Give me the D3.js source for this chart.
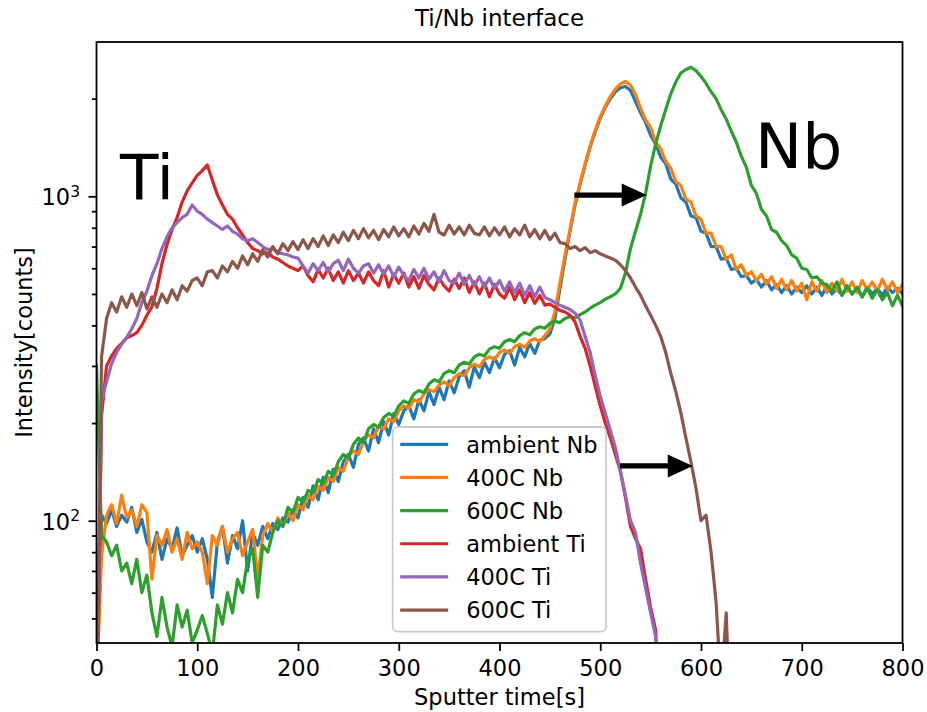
<!DOCTYPE html>
<html>
<head>
<meta charset="utf-8">
<script src="https://cdn.jsdelivr.net/npm/d3@7"></script>
<style>
  body { margin: 0; background: #fff; }
  text { font-family: "DejaVu Sans", sans-serif; }
</style>
</head>
<body>
<div id="chart"></div>
<script>
const sputterTime = d3.range(0, 801, 5)

const ambientNb = [
  30, 104, 98, 108, 96, 104, 99, 110, 92, 101,
  86, 80, 92, 76, 88, 82, 95, 78, 84, 90,
  80, 88, 76, 58, 86, 96, 74, 90, 82, 100,
  70, 92, 84, 96, 88, 98, 94, 102, 99, 108,
  102, 118, 110, 128, 116, 136, 122, 144, 132, 152,
  160, 146, 172, 180, 164, 192, 174, 202, 184, 214,
  198, 218, 226, 206, 236, 218, 250, 228, 258, 236,
  270, 248, 278, 290, 258, 298, 276, 308, 286, 318,
  296, 326, 334, 302, 342, 320, 352, 328, 360, 364,
  376, 420, 520, 640, 780, 940, 1090, 1250, 1420, 1580,
  1740, 1880, 2000, 2100, 2160, 2180, 2120, 1960, 1810, 1690,
  1540, 1450, 1320, 1260, 1130, 1090, 990, 960, 870, 860,
  780, 770, 700, 700, 640, 645, 595, 600, 565, 570,
  540, 555, 525, 550, 515, 535, 505, 530, 500, 525,
  505, 530, 500, 525, 495, 530, 500, 520, 495, 525,
  500, 520, 490, 525, 500, 520, 495, 525, 505, 520,
  500
]

const nb400C = [
  30, 78, 104, 112, 98, 120, 102, 108, 96, 112,
  106, 66, 90, 84, 94, 80, 88, 76, 92, 82,
  86, 80, 64, 90, 84, 96, 80, 88, 92, 78,
  86, 94, 66, 90, 98, 92, 102, 96, 106, 100,
  112, 108, 120, 116, 128, 124, 136, 132, 146, 142,
  158, 164, 160, 176, 184, 180, 196, 192, 206, 202,
  218, 226, 222, 236, 232, 246, 254, 250, 262, 268,
  260, 276, 284, 280, 296, 304, 298, 314, 320, 314,
  330, 336, 328, 344, 350, 342, 358, 364, 356, 372,
  390, 440, 540, 660, 790, 960, 1100, 1260, 1430, 1600,
  1760, 1900, 2030, 2140, 2220, 2260, 2200, 2060, 1870, 1720,
  1630, 1470, 1400, 1280, 1220, 1110, 1080, 980, 960, 870,
  850, 770, 770, 700, 700, 640, 660, 595, 615, 570,
  585, 550, 575, 535, 565, 520, 555, 515, 550, 510,
  540, 480, 545, 510, 550, 505, 540, 510, 555, 510,
  545, 505, 550, 515, 545, 510, 555, 515, 545, 505,
  535
]

const nb600C = [
  300, 90, 86, 78, 84, 70, 74, 64, 76, 60,
  68, 52, 44, 58, 47, 41, 55, 47, 53, 42,
  46, 51, 45, 39, 55, 48, 60, 52, 66, 60,
  76, 82, 58, 84, 80, 92, 100, 96, 110, 106,
  118, 114, 124, 122, 134, 130, 142, 138, 152, 160,
  156, 172, 180, 174, 192, 198, 194, 208, 214, 210,
  226, 234, 230, 246, 252, 248, 264, 272, 268, 284,
  290, 286, 302, 308, 304, 320, 326, 322, 338, 344,
  340, 356, 362, 356, 372, 380, 374, 390, 396, 392,
  406, 412, 408, 420, 426, 422, 432, 440, 452, 462,
  470, 482, 490, 500, 520, 580, 690, 780, 880, 1020,
  1240, 1450, 1650, 1850, 2070, 2250, 2400, 2460, 2500, 2440,
  2340, 2230, 2100, 2000, 1850, 1730, 1590, 1470, 1330, 1230,
  1080, 1020, 910, 870, 790, 775, 730, 705, 660, 645,
  600, 595, 560, 565, 540, 535, 510, 545, 495, 530,
  500, 525, 490, 520, 485, 515, 480, 505, 460, 495,
  460
]

const ambientTi = [
  20, 210, 300, 322, 340, 352, 366, 372, 380, 400,
  430, 456, 520, 620, 710, 790, 860, 960, 1040, 1100,
  1160, 1200, 1250, 1120, 1010, 940, 880, 850, 800, 760,
  720, 690, 680, 665, 670, 650, 640, 625, 610, 600,
  590, 610, 570, 545, 595, 560, 600, 550, 585, 540,
  590, 550, 580, 540, 585, 550, 530, 590, 525, 575,
  540, 580, 525, 565, 520, 570, 535, 515, 560, 530,
  510, 555, 520, 560, 505, 545, 500, 540, 490, 535,
  500, 485, 525, 480, 515, 470, 505, 468, 495, 462,
  465, 455, 445, 440, 430, 410, 370, 340, 300, 260,
  226, 200, 180, 160, 142, 118, 96, 88, 82, 66,
  54, 46, 20
]

const ti400C = [
  20, 235, 268, 305, 330, 350, 368, 390, 420, 470,
  510, 570, 620, 690, 750, 800, 830, 860, 880, 940,
  900, 880, 850, 830, 810, 790, 810, 780, 765, 740,
  730, 740, 720, 700, 685, 690, 670, 665, 660, 650,
  645, 610, 580, 620, 590, 625, 585, 620, 635, 590,
  640, 600, 580, 610, 620, 580, 615, 575, 610, 565,
  605, 570, 550, 595, 560, 600, 555, 585, 545, 590,
  550, 540, 580, 535, 570, 530, 565, 525, 560, 520,
  550, 510, 545, 505, 540, 495, 530, 490, 525, 488,
  480, 470, 462, 455, 448, 436, 416, 370, 330, 280,
  242, 215, 190, 168, 142, 120, 100, 92, 74, 62,
  52, 44, 20
]

const ti600C = [
  20, 320, 420, 470, 440, 490, 455, 500, 460, 505,
  450, 490, 455, 500, 470, 515, 480, 530, 510, 550,
  560, 530, 585, 590, 560, 610, 585, 630, 600, 655,
  615, 665, 630, 685, 650, 700, 665, 715, 680, 725,
  685, 735, 690, 740, 700, 755, 705, 760, 720, 775,
  730, 785, 740, 795, 745, 785, 735, 790, 750, 805,
  755, 795, 750, 810, 765, 825, 780, 880, 775, 760,
  815, 765, 805, 760, 815, 770, 760, 805, 755, 800,
  760, 805, 750, 795, 760, 815, 750, 790, 740, 785,
  735, 770, 720, 715, 690, 700, 680, 695, 670, 680,
  665, 655, 645, 635, 615, 590, 560, 525, 495, 460,
  430, 400, 370, 330, 285, 250, 215, 180, 152, 126,
  100, 104, 80, 56, 30, 52, 20
]

const seriesNames = ['ambient Nb', '400C Nb', '600C Nb', 'ambient Ti', '400C Ti', '600C Ti']
const seriesValues = [ambientNb, nb400C, nb600C, ambientTi, ti400C, ti600C]
const seriesColors = ['#1f77b4', '#ff7f0e', '#2ca02c', '#d62728', '#9467bd', '#8c564b']

const xTicks = [0, 100, 200, 300, 400, 500, 600, 700, 800]
const yMajorTicks = [100, 1000]
const yMinorTicks = [50, 60, 70, 80, 90, 200, 300, 400, 500, 600, 700, 800, 900, 2000]

// arrows: [start time, end time, intensity]
const arrowShifts = [
  [474.3, 546.1, 1009],
  [519.6, 591.8, 147.5],
]

// Dimensions
let dimensions = {
  width: 927,
  height: 712,
  margins: { top: 42, right: 24.5, bottom: 69, left: 96.5 },
}
dimensions.ctrWidth = dimensions.width - dimensions.margins.left - dimensions.margins.right
dimensions.ctrHeight = dimensions.height - dimensions.margins.top - dimensions.margins.bottom

const svg = d3.select('#chart')
  .append('svg')
  .attr('width', dimensions.width)
  .attr('height', dimensions.height)

const ctr = svg.append('g')
  .attr('transform', `translate(${dimensions.margins.left}, ${dimensions.margins.top})`)

// Scales
const xScale = d3.scaleLinear()
  .domain([0, 800])
  .range([0, dimensions.ctrWidth])

const yScale = d3.scaleLog()
  .domain([41.98, 2990])
  .range([dimensions.ctrHeight, 0])

// Lines
ctr.append('clipPath')
  .attr('id', 'plot-clip')
  .append('rect')
  .attr('width', dimensions.ctrWidth)
  .attr('height', dimensions.ctrHeight)

const line = d3.line()
  .x((d, i) => xScale(sputterTime[i]))
  .y(d => yScale(d))

ctr.append('g')
  .attr('clip-path', 'url(#plot-clip)')
  .selectAll('path')
  .data(seriesValues)
  .join('path')
  .attr('fill', 'none')
  .attr('stroke', (d, i) => seriesColors[i])
  .attr('stroke-width', 3.2)
  .attr('stroke-linejoin', 'round')
  .attr('stroke-linecap', 'square')
  .attr('d', line)

// Axes
const xAxis = d3.axisBottom(xScale)
  .tickValues(xTicks)
  .tickSize(8)
  .tickPadding(9.5)
  .tickSizeOuter(0)

ctr.append('g')
  .attr('transform', `translate(0, ${dimensions.ctrHeight})`)
  .call(xAxis)

const yAxisMinor = d3.axisLeft(yScale)
  .tickValues(yMinorTicks)
  .tickSize(4.6)
  .tickFormat('')
  .tickSizeOuter(0)

ctr.append('g').call(yAxisMinor)

const yAxis = d3.axisLeft(yScale)
  .tickValues(yMajorTicks)
  .tickSize(8)
  .tickPadding(8.5)
  .tickFormat(() => '10')
  .tickSizeOuter(0)

const yAxisGroup = ctr.append('g').call(yAxis)

yAxisGroup.selectAll('.tick text')
  .attr('dy', '0.38em')
  .append('tspan')
  .attr('dy', -8.5)
  .attr('font-size', 15.5)
  .text(d => Math.round(Math.log10(d)))

ctr.selectAll('.domain').remove()
ctr.selectAll('.tick line').attr('stroke', '#000').attr('stroke-width', 1.8)
ctr.selectAll('.tick text')
  .attr('fill', '#000')
  .attr('font-size', 22.5)
  .attr('font-family', '"DejaVu Sans", sans-serif')

ctr.append('rect')
  .attr('width', dimensions.ctrWidth)
  .attr('height', dimensions.ctrHeight)
  .attr('fill', 'none')
  .attr('stroke', '#000')
  .attr('stroke-width', 1.8)

// Arrows
const headLength = 25
const headHalf = 11.5
const shaftHalf = 2.6
ctr.append('g')
  .selectAll('path')
  .data(arrowShifts)
  .join('path')
  .attr('fill', '#000')
  .attr('d', d => {
    const x0 = xScale(d[0])
    const x1 = xScale(d[1])
    const y = yScale(d[2])
    const xh = x1 - headLength
    return `M${x0},${y - shaftHalf}L${xh},${y - shaftHalf}L${xh},${y - headHalf}` +
      `L${x1},${y}L${xh},${y + headHalf}L${xh},${y + shaftHalf}L${x0},${y + shaftHalf}Z`
  })

// Element labels
svg.append('text')
  .attr('x', 120)
  .attr('y', 199)
  .attr('font-size', 63)
  .text('Ti')

svg.append('text')
  .attr('x', 755)
  .attr('y', 168)
  .attr('font-size', 63)
  .text('Nb')

// Titles
svg.append('text')
  .attr('x', dimensions.margins.left + dimensions.ctrWidth / 2)
  .attr('y', 26)
  .attr('text-anchor', 'middle')
  .attr('font-size', 23)
  .text('Ti/Nb interface')

svg.append('text')
  .attr('x', dimensions.margins.left + dimensions.ctrWidth / 2)
  .attr('y', 705)
  .attr('text-anchor', 'middle')
  .attr('font-size', 22.5)
  .text('Sputter time[s]')

svg.append('text')
  .attr('transform', `translate(32, ${dimensions.margins.top + dimensions.ctrHeight / 2}) rotate(-90)`)
  .attr('text-anchor', 'middle')
  .attr('font-size', 22.5)
  .text('Intensity[counts]')

// Legend
const legend = svg.append('g')
  .attr('transform', 'translate(392.7, 427)')

legend.append('rect')
  .attr('width', 213.3)
  .attr('height', 204.7)
  .attr('rx', 5)
  .attr('fill', '#fff')
  .attr('fill-opacity', 0.8)
  .attr('stroke', '#cccccc')
  .attr('stroke-width', 1.8)

const legendItems = legend.selectAll('g')
  .data(seriesNames)
  .join('g')
  .attr('transform', (d, i) => `translate(0, ${17.3 + i * 33.15})`)

legendItems.append('line')
  .attr('x1', 7.5)
  .attr('x2', 55.5)
  .attr('stroke', (d, i) => seriesColors[i])
  .attr('stroke-width', 3.2)

legendItems.append('text')
  .attr('x', 73.5)
  .attr('y', 8.2)
  .attr('font-size', 22.5)
  .text(d => d)
</script>
</body>
</html>
